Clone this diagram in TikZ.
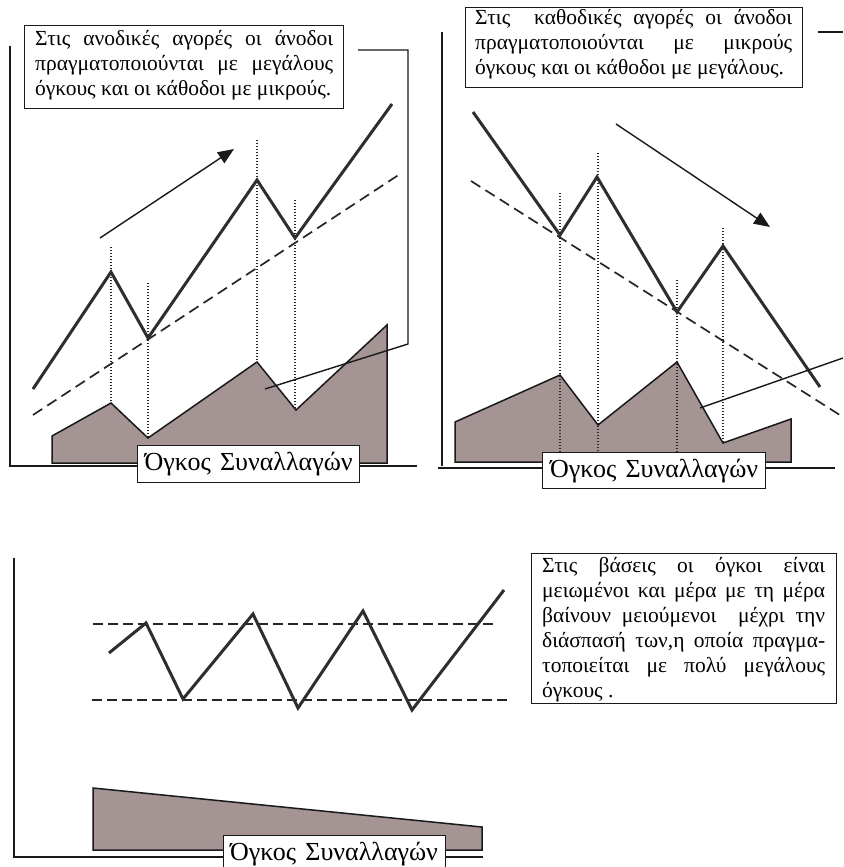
\documentclass[tikz,border=0pt]{standalone}
\usepackage{fontspec}
\setmainfont{Liberation Serif}
\usetikzlibrary{arrows.meta}
\definecolor{volfill}{RGB}{164,148,148}
\tikzset{
  axis/.style={line width=1.7pt, black!90},
  price/.style={line width=3pt, black!82, line join=miter},
  trend/.style={line width=1.7pt, black!85, dash pattern=on 11pt off 6pt},
  flatline/.style={line width=1.7pt, black!85, dash pattern=on 10pt off 5pt},
  guide/.style={line width=1.1pt, black!85, dash pattern=on 1.2pt off 1.8pt},
  volume/.style={fill=volfill, draw=black!90, line width=1.5pt, line join=miter},
  dirarrow/.style={line width=1.4pt, black!90, -{Triangle[length=16pt,width=13pt]}},
  callout/.style={line width=1.4pt, black!90},
  infobox/.style={draw=black!90, line width=1.4pt, fill=white, inner sep=0pt, anchor=north west, align=left},
  volbox/.style={draw=black!90, line width=1.4pt, fill=white, inner sep=0pt, anchor=north west},
  bodytext/.style={font=\fontsize{21.5}{25}\selectfont},
  voltext/.style={font=\fontsize{26}{28}\selectfont}
}
\begin{document}
\begin{tikzpicture}[x=1pt,y=-1pt]
\useasboundingbox (0,0) rectangle (843,867);
\fill[white] (0,0) rectangle (843,867);

% ================= TOP LEFT =================
\coordinate (a1top) at (10,46);
\coordinate (a1o) at (10,466);
\coordinate (a1r) at (417,466);
\draw[axis] (a1top) -- (a1o) -- (a1r);

% volume
\draw[volume] (52,463) -- (52,436) -- (111,403) -- (148,438) -- (257,362) -- (296,410) -- (387,325) -- (387,463) -- cycle;

% guides
\draw[guide] (111,247) -- (111,403);
\draw[guide] (148,283) -- (148,438);
\draw[guide] (257,140) -- (257,362);
\draw[guide] (295,200) -- (295,410);

% trend
\coordinate (t1a) at (33,415);
\coordinate (t1b) at (400,174);
\draw[trend] (t1a) -- (t1b);

% price
\coordinate (p1) at (33,389);
\coordinate (p2) at (111,272);
\coordinate (p3) at (148,338);
\coordinate (p4) at (257,180);
\coordinate (p5) at (295,238);
\coordinate (p6) at (392,104);
\draw[price] (p1) -- (p2) -- (p3) -- (p4) -- (p5) -- (p6);

% arrow
\coordinate (ar1a) at (100,238);
\coordinate (ar1b) at (234,149);
\draw[dirarrow] (ar1a) -- (ar1b);

% callout frame
\coordinate (c1a) at (358,50);
\coordinate (c1b) at (408,50);
\coordinate (c1c) at (408,344);
\coordinate (c1d) at (265,389);
\draw[callout] (c1a) -- (c1b) -- (c1c) -- (c1d);

% text box
\node[infobox, minimum width=319pt, minimum height=83pt] (box1) at (24,25) {};
\node[bodytext, anchor=north west, inner sep=0pt, align=left] (txt1) at (35,30) {%
\makebox[298pt][s]{Στις ανοδικές αγορές οι άνοδοι}\\
\makebox[298pt][s]{πραγματοποιούνται με μεγάλους}\\
όγκους και οι κάθοδοι με μικρούς.};

% volume label
\node[volbox, minimum width=222pt, minimum height=37pt] (vol1) at (137,445) {};
\node[voltext, inner sep=0pt] (vol1t) at (vol1.center) {\makebox[208pt][s]{Όγκος Συναλλαγών}};

% ================= TOP RIGHT =================
\coordinate (a2top) at (442,32);
\coordinate (a2o) at (442,466);
\draw[axis] (a2top) -- (a2o);
\coordinate (a2l) at (438,468);
\coordinate (a2r) at (835,468);
\draw[axis] (a2l) -- (a2r);

\draw[volume] (455,462) -- (455,422) -- (560,375) -- (598,425) -- (677,362) -- (723,443) -- (791,419) -- (791,462) -- cycle;

\draw[guide] (560,193) -- (560,462);
\draw[guide] (598,153) -- (598,462);
\draw[guide] (677,280) -- (677,462);
\draw[guide] (723,228) -- (723,443);

\coordinate (t2a) at (471,181);
\coordinate (t2b) at (843,417);
\draw[trend] (t2a) -- (t2b);

\coordinate (q1) at (473,112);
\coordinate (q2) at (560,235);
\coordinate (q3) at (597,177);
\coordinate (q4) at (677,312);
\coordinate (q5) at (723,246);
\coordinate (q6) at (820,387);
\draw[price] (q1) -- (q2) -- (q3) -- (q4) -- (q5) -- (q6);

\coordinate (ar2a) at (616,124);
\coordinate (ar2b) at (770,227);
\draw[dirarrow] (ar2a) -- (ar2b);

\coordinate (c2a) at (700,408);
\coordinate (c2b) at (843,358);
\draw[callout] (c2a) -- (c2b);
\coordinate (c2s) at (818,32);
\coordinate (c2e) at (843,32);
\draw[callout] (c2s) -- (c2e);

\node[infobox, minimum width=337pt, minimum height=80pt] (box2) at (465,7) {};
\node[bodytext, anchor=north west, inner sep=0pt, align=left] (txt2) at (475,9) {%
\makebox[317pt][s]{Στις \ καθοδικές αγορές οι άνοδοι}\\
\makebox[317pt][s]{πραγματοποιούνται με μικρούς}\\
όγκους και οι κάθοδοι με μεγάλους.};

\node[volbox, minimum width=223pt, minimum height=36pt] (vol2) at (542,452) {};
\node[voltext, inner sep=0pt] (vol2t) at (vol2.center) {\makebox[208pt][s]{Όγκος Συναλλαγών}};

% ================= BOTTOM =================
\coordinate (a3top) at (14,558);
\coordinate (a3o) at (14,857);
\coordinate (a3r) at (483,857);
\draw[axis] (a3top) -- (a3o) -- (a3r);

\draw[volume] (93,850) -- (93,788) -- (482,827) -- (482,850) -- cycle;

\coordinate (u1) at (93,624);
\coordinate (u2) at (495,624);
\coordinate (l1) at (92,700);
\coordinate (l2) at (507,700);
\draw[flatline] (u1) -- (u2);
\draw[flatline] (l1) -- (l2);

\coordinate (r1) at (109,653);
\coordinate (r2) at (146,623);
\coordinate (r3) at (183,699);
\coordinate (r4) at (253,614);
\coordinate (r5) at (298,708);
\coordinate (r6) at (363,611);
\coordinate (r7) at (412,710);
\coordinate (r8) at (504,590);
\draw[price] (r1) -- (r2) -- (r3) -- (r4) -- (r5) -- (r6) -- (r7) -- (r8);

\node[infobox, minimum width=305pt, minimum height=150pt] (box3) at (531,553) {};
\node[bodytext, anchor=north west, inner sep=0pt, align=left] (txt3) at (542,557) {%
\makebox[283pt][s]{Στις βάσεις οι όγκοι είναι}\\
\makebox[283pt][s]{μειωμένοι και μέρα με τη μέρα}\\
\makebox[283pt][s]{βαίνουν μειούμενοι \ μέχρι την}\\
\makebox[283pt][s]{διάσπασή των,η οποία πραγμα-}\\
\makebox[283pt][s]{τοποιείται με πολύ μεγάλους}\\
όγκους .};

\node[volbox, minimum width=222pt, minimum height=40pt] (vol3) at (223,835) {};
\node[voltext, inner sep=0pt, anchor=north] (vol3t) at (334,842) {\makebox[208pt][s]{Όγκος Συναλλαγών}};
\end{tikzpicture}
\end{document}
